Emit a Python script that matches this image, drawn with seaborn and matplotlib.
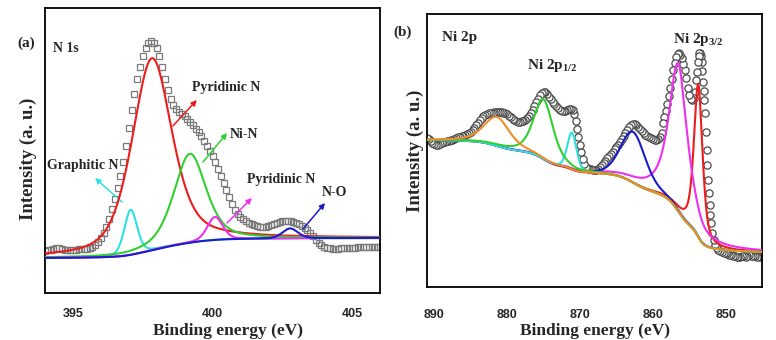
import numpy as np
import matplotlib
matplotlib.use("Agg")
import matplotlib.pyplot as plt
import seaborn as sns

# ------------------------------------------------------------------ data
# (a) N 1s : measured points (binding energy, intensity a.u.)
be_a = np.round(np.linspace(394.0, 406.0, 121), 1)
int_a = [42, 43, 43, 44, 45, 45, 44, 43, 43, 43,
         43, 43, 44, 44, 44, 44, 45, 46, 48, 51,
         55, 60, 66, 74, 84, 94, 105, 117, 131, 147,
         165, 183, 199, 214, 226, 237, 245, 250, 252, 250,
         245, 237, 226, 214, 203, 194, 188, 184, 181, 179,
         177, 174, 171, 168, 164, 161, 157, 152, 147, 142,
         137, 131, 124, 117, 110, 103, 96, 89, 83, 79,
         76, 74, 72, 70, 69, 68, 67, 66, 66, 66,
         67, 68, 69, 70, 71, 72, 72, 72, 72, 71,
         70, 69, 67, 65, 63, 60, 57, 53, 50, 48,
         46, 45, 45, 44, 44, 44, 45, 45, 45, 45,
         45, 45, 46, 46, 46, 46, 46, 46, 46, 46,
         46]

# (a) fitted components (pseudo-Voigt parameters)
comp_a_names = ["Graphitic N", "Pyridinic N", "Ni-N", "Pyridinic N", "N-O"]
comp_a_center = [397.07, 397.83, 399.19, 400.09, 402.78]
comp_a_height = [45, 192, 89, 23, 10]
comp_a_fwhm = [0.54, 1.70, 1.36, 0.65, 0.65]
comp_a_eta = [0.3, 0.5, 0.5, 0.3, 0.3]
comp_a_colors = ["#30e0e0", "#ee1c1c", "#30d030", "#ee30ee", "#1c1ccc"]
bg_a_low, bg_a_high = 35, 55

# (b) Ni 2p : measured points
be_b = [891.0, 890.75, 890.5, 890.25, 890.0, 889.75, 889.5, 889.25, 889.0, 888.75,
        888.5, 888.25, 888.0, 887.75, 887.5, 887.25, 887.0, 886.75, 886.5, 886.25,
        886.0, 885.75, 885.5, 885.25, 885.0, 884.75, 884.5, 884.25, 884.0, 883.75,
        883.5, 883.25, 883.0, 882.75, 882.5, 882.25, 882.0, 881.75, 881.5, 881.25,
        881.0, 880.75, 880.5, 880.25, 880.0, 879.75, 879.5, 879.25, 879.0, 878.75,
        878.5, 878.25, 878.0, 877.75, 877.5, 877.25, 877.0, 876.75, 876.5, 876.25,
        876.0, 875.75, 875.5, 875.25, 875.0, 874.75, 874.5, 874.25, 874.0, 873.75,
        873.5, 873.25, 873.0, 872.75, 872.5, 872.25, 872.0, 871.75, 871.5, 871.25,
        871.0, 870.8, 870.6, 870.4, 870.2, 870.0, 869.8, 869.6, 869.4, 869.2,
        869.0, 868.75, 868.5, 868.25, 868.0, 867.75, 867.5, 867.25, 867.0, 866.75,
        866.5, 866.25, 866.0, 865.75, 865.5, 865.25, 865.0, 864.75, 864.5, 864.25,
        864.0, 863.75, 863.5, 863.25, 863.0, 862.75, 862.5, 862.25, 862.0, 861.75,
        861.5, 861.25, 861.0, 860.75, 860.5, 860.25, 860.0, 859.75, 859.5, 859.25,
        859.0, 858.8, 858.6, 858.4, 858.2, 858.0, 857.8, 857.6, 857.4, 857.2,
        857.0, 856.8, 856.6, 856.4, 856.2, 856.0, 855.8, 855.6, 855.4, 855.2,
        855.0, 854.8, 854.6, 854.4, 854.2, 854.0, 853.9, 853.8, 853.7, 853.6,
        853.5, 853.4, 853.3, 853.2, 853.1, 853.0, 852.9, 852.8, 852.7, 852.6,
        852.5, 852.4, 852.3, 852.2, 852.1, 852.0, 851.8, 851.6, 851.4, 851.2,
        851.0, 850.75, 850.5, 850.25, 850.0, 849.75, 849.5, 849.25, 849.0, 848.75,
        848.5, 848.25, 848.0, 847.75, 847.5, 847.25, 847.0, 846.75, 846.5, 846.25,
        846.0, 845.75, 845.5, 845.25, 845.0]
int_b = [149, 148, 146, 144, 143, 142, 142, 143, 144, 145,
         145, 146, 146, 147, 147, 148, 149, 150, 150, 151,
         151, 152, 153, 154, 155, 157, 159, 162, 164, 167,
         169, 171, 172, 173, 174, 174, 174, 175, 175, 175,
         175, 175, 174, 174, 173, 171, 170, 168, 167, 166,
         165, 165, 166, 166, 167, 169, 171, 174, 177, 181,
         185, 188, 192, 194, 195, 195, 193, 190, 188, 185,
         183, 181, 179, 177, 176, 176, 176, 177, 178, 178,
         177, 173, 166, 158, 150, 142, 135, 128, 123, 120,
         119, 118, 118, 117, 117, 117, 118, 120, 122, 124,
         126, 129, 131, 133, 135, 138, 140, 142, 145, 148,
         151, 154, 157, 160, 162, 163, 163, 162, 160, 158,
         156, 154, 152, 151, 150, 149, 148, 147, 147, 148,
         150, 154, 164, 170, 176, 183, 191, 199, 208, 217,
         224, 230, 233, 234, 232, 229, 223, 217, 209, 199,
         192, 188, 187, 189, 195, 207, 215, 225, 231, 234,
         234, 231, 225, 216, 205, 196, 187, 174, 155, 137,
         122, 107, 94, 82, 72, 64, 54, 47, 42, 39,
         37, 36, 35, 34, 34, 33, 32, 32, 31, 31,
         30, 30, 30, 31, 31, 30, 31, 32, 31, 31,
         31, 30, 31, 30, 30]

# (b) fitted components (pseudo-Voigt parameters)
comp_b_center = [853.75, 856.5, 862.7, 871.1, 875.0, 881.4]
comp_b_height = [153, 148, 51, 37, 60, 29]
comp_b_fwhm = [1.4, 3.0, 4.0, 1.5, 3.2, 4.2]
comp_b_eta = [0.6, 0.8, 0.3, 0.3, 0.5, 0.5]
comp_b_colors = ["#ee1c1c", "#ee30ee", "#1c1ccc", "#30e0e0", "#30d030", "#f08c28"]
bg_b_low, bg_b_high = 35, 147


# ------------------------------------------------------------------ helpers
def pvoigt(x, c, h, w, eta):
    g = np.exp(-4 * np.log(2) * ((x - c) / w) ** 2)
    lo = 1.0 / (1.0 + 4 * ((x - c) / w) ** 2)
    return h * (eta * lo + (1 - eta) * g)


def shirley(x, total, low, high):
    cum = np.concatenate([[0.0], np.cumsum(0.5 * (total[1:] + total[:-1]) * np.diff(x))])
    return low + (high - low) * cum / cum[-1]


# ------------------------------------------------------------------ style
sns.set_style("white")
plt.rcParams["font.family"] = ["Liberation Serif", "DejaVu Serif"]
plt.rcParams["mathtext.fontset"] = "custom"
plt.rcParams["mathtext.rm"] = "Liberation Serif:bold"
plt.rcParams["mathtext.bf"] = "Liberation Serif:bold"
plt.rcParams["axes.linewidth"] = 1.3

fig = plt.figure(figsize=(7.76, 3.4), dpi=100)
axa = fig.add_axes([45 / 776, (340 - 293) / 340, 335 / 776, 285 / 340])
axb = fig.add_axes([427 / 776, (340 - 287) / 340, 335 / 776, 273 / 340])

SERIF = ["Liberation Serif", "DejaVu Serif"]
TXT_A = dict(fontweight="bold", fontsize=10, family=SERIF)
TXT_B = dict(fontweight="bold", fontsize=11, family=SERIF)

# ------------------------------------------------------------------ panel (a)
xa = np.linspace(393.5, 406.5, 2000)
peaks_a = [pvoigt(xa, c, h, w, e) for c, h, w, e in
           zip(comp_a_center, comp_a_height, comp_a_fwhm, comp_a_eta)]
bga = shirley(xa, np.sum(peaks_a, axis=0), bg_a_low, bg_a_high)

sns.lineplot(x=be_a, y=int_a, ax=axa, marker="s", linestyle="", mfc="none",
             mec="#7a7a7a", mew=0.9, ms=4.3, zorder=2)
for i in range(len(comp_a_center)):
    sns.lineplot(x=xa, y=bga + peaks_a[i], ax=axa, color=comp_a_colors[i],
                 lw=1.5, zorder=3 + i)

axa.set_xlim(394, 406)
axa.set_ylim(0, 285)
axa.set_yticks([])
axa.set_xticks([395, 400, 405])
axa.set_xticks([397.5, 402.5], minor=True)

# annotations (a): (text, text_x, text_y, arrow tail, arrow tip)
arrows_a = [
    (comp_a_names[0], 394.07, 128, (396.76, 91), (395.79, 115)),
    (comp_a_names[1], 399.27, 206, (398.58, 167), (399.44, 193)),
    (comp_a_names[2], 400.63, 158, (399.66, 131), (400.52, 160)),
    (comp_a_names[3], 401.23, 113, (400.52, 70), (401.41, 95)),
    (comp_a_names[4], 403.92, 100, (403.24, 64), (404.03, 90)),
]
for (t, tx, ty, tail, tip), col in zip(arrows_a, comp_a_colors):
    axa.annotate("", xy=tip, xytext=tail,
                 arrowprops=dict(arrowstyle="-|>", color=col, lw=1.1,
                                 mutation_scale=8, shrinkA=0, shrinkB=0))
    axa.text(tx, ty, t, ha="left", va="center", **TXT_A)
axa.text(394.29, 244, "N 1s", ha="left", va="center", **TXT_A)

# ------------------------------------------------------------------ panel (b)
xb = np.linspace(844.5, 891.5, 3000)
peaks_b = [pvoigt(xb, c, h, w, e) for c, h, w, e in
           zip(comp_b_center, comp_b_height, comp_b_fwhm, comp_b_eta)]
bgb = shirley(xb, np.sum(peaks_b, axis=0), bg_b_low, bg_b_high)

sns.lineplot(x=be_b, y=int_b, ax=axb, marker="o", linestyle="", mfc="white",
             mec="#4a4a4a", mew=0.9, ms=5.2, zorder=2)
for i in range(len(comp_b_center)):
    sns.lineplot(x=xb, y=bgb + peaks_b[i], ax=axb, color=comp_b_colors[i],
                 lw=1.5, zorder=3 + i)

axb.set_xlim(891, 845)
axb.set_ylim(0, 273)
axb.set_yticks([])
axb.set_xticks([890, 880, 870, 860, 850])
axb.set_xticks([885, 875, 865, 855], minor=True)

axb.text(888.94, 250, "Ni 2p", ha="left", va="center", **TXT_B)
axb.text(877.27, 222, r"Ni 2p$_{\mathbf{1/2}}$", ha="left", va="center", **TXT_B)
axb.text(857.2, 247, r"Ni 2p$_{\mathbf{3/2}}$", ha="left", va="center", **TXT_B)

# ------------------------------------------------------------------ common axes styling
for ax, lp, tpad, xlx in ((axa, 6, 11, 0.545), (axb, 2, 15.5, 0.5)):
    ax.tick_params(axis="x", which="major", direction="in", length=5, width=1.2, pad=tpad)
    ax.tick_params(axis="x", which="minor", direction="in", length=3, width=1.0)
    for lab in ax.get_xticklabels():
        lab.set_fontfamily(["Liberation Sans", "DejaVu Sans"])
        lab.set_fontweight("bold")
        lab.set_fontsize(9)
    ax.set_xlabel("Binding energy (eV)", fontsize=12.5, fontweight="bold", labelpad=2)
    ax.xaxis.label.set_x(xlx)
    ax.set_ylabel("Intensity (a. u.)", fontsize=13.5, fontweight="bold", labelpad=lp)
    for sp in ax.spines.values():
        sp.set_visible(True)
        sp.set_color("black")
        sp.set_linewidth(1.3)
axa.yaxis.label.set_y(0.47)

fig.text(17 / 776, 1 - 43 / 340, "(a)", ha="left", va="center", fontsize=11, fontweight="bold")
fig.text(393 / 776, 1 - 32 / 340, "(b)", ha="left", va="center", fontsize=11, fontweight="bold")

fig.savefig("out.png", dpi=100)
